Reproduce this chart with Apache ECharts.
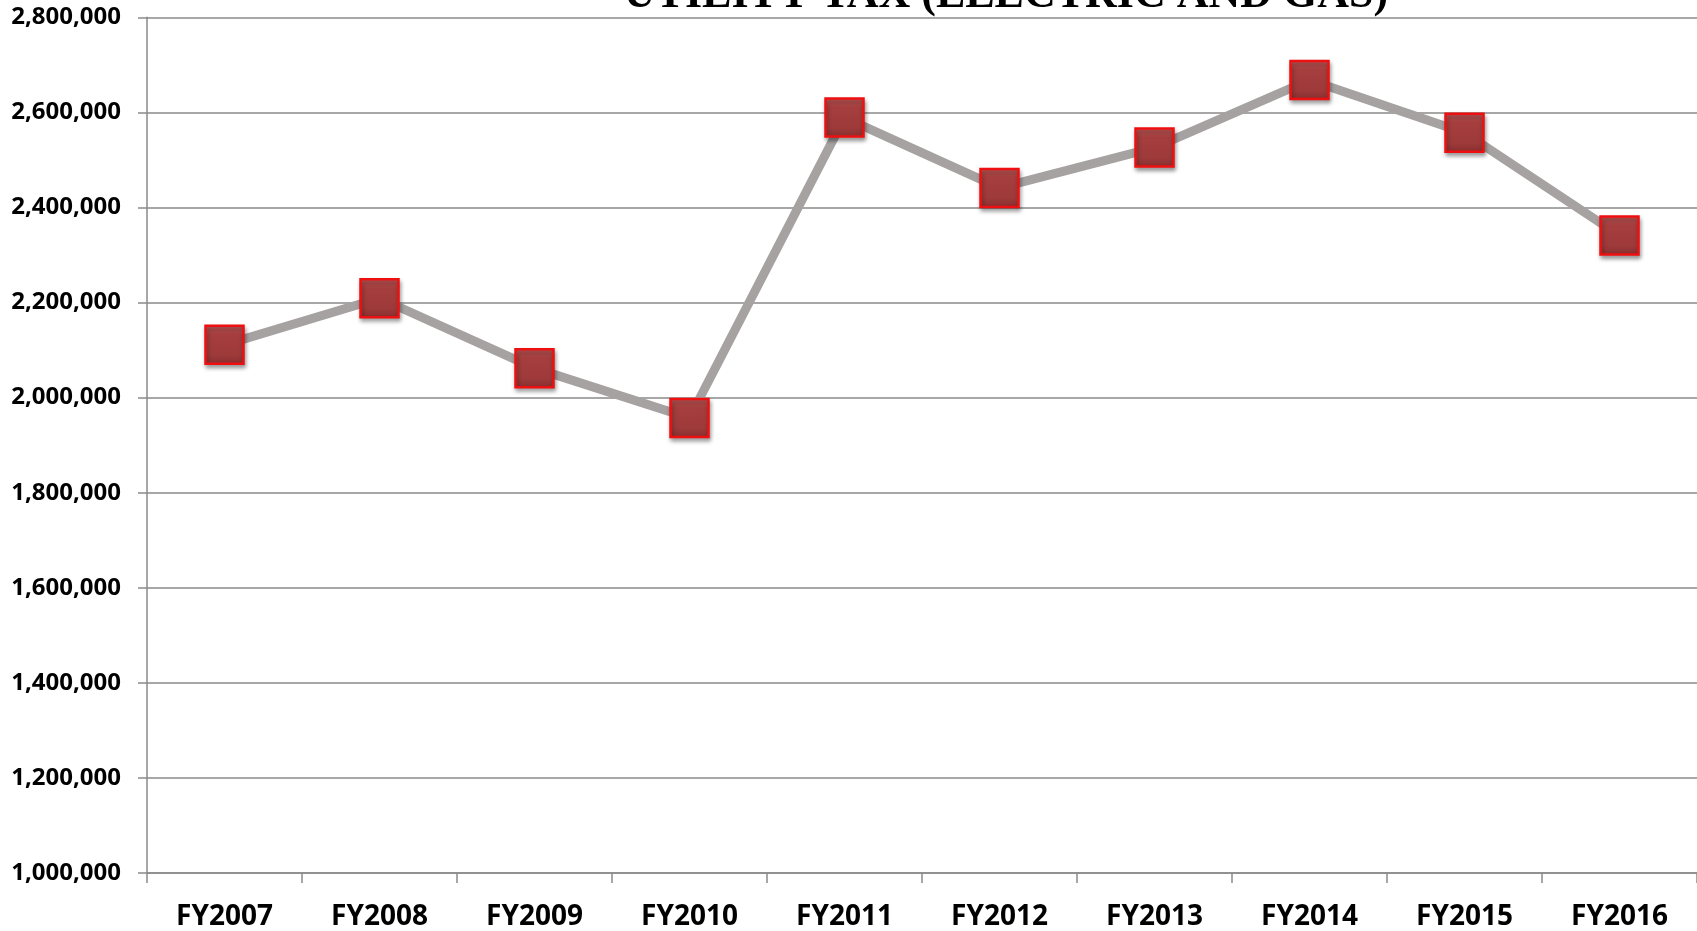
<!DOCTYPE html>
<html>
<head>
<meta charset="utf-8">
<script src="https://cdn.jsdelivr.net/npm/echarts@6/dist/echarts.min.js"></script>
<style>
html,body{margin:0;padding:0;background:#fff;}
#chart{width:1697px;height:931px;}
</style>
</head>
<body>
<div id="chart"></div>
<script>
const titleText = 'UTILITY TAX (ELECTRIC AND GAS)';
const categories = ['FY2007','FY2008','FY2009','FY2010','FY2011','FY2012','FY2013','FY2014','FY2015','FY2016'];
const values = [2111000, 2209000, 2062000, 1957000, 2589000, 2441000, 2526000, 2668000, 2557000, 2341000];
const yMin = 1000000, yMax = 2800000, yStep = 200000;

const chart = echarts.init(document.getElementById('chart'), null, {renderer:'canvas'});
chart.setOption({
  animation: false,
  backgroundColor: '#ffffff',
  title: {
    text: titleText,
    left: 1006,
    textAlign: 'center',
    top: -26,
    padding: 0,
    textStyle: {fontFamily: '"Liberation Serif", "Times New Roman", serif', fontWeight: 'bold', fontSize: 44, color: '#000'}
  },
  grid: {left: 147, right: 0, top: 17.3, bottom: 57.7, containLabel: false},
  xAxis: {
    type: 'category',
    data: categories,
    boundaryGap: true,
    axisLine: {show: true, lineStyle: {color: '#8A8A8A', width: 1.5}},
    axisTick: {show: true, length: 10, alignWithLabel: false, lineStyle: {color: '#8A8A8A', width: 1.5}},
    axisLabel: {margin: 30, fontFamily: '"Open Sans", sans-serif', fontWeight: 'bold', fontSize: 28, color: '#000'}
  },
  yAxis: {
    type: 'value',
    min: yMin, max: yMax, interval: yStep,
    axisLine: {show: true, lineStyle: {color: '#8A8A8A', width: 1.5}},
    axisTick: {show: true, length: 9, lineStyle: {color: '#8A8A8A', width: 1.5}},
    splitLine: {show: true, lineStyle: {color: '#8A8A8A', width: 1.5}},
    axisLabel: {
      margin: 26,
      fontFamily: '"Open Sans", sans-serif', fontWeight: 'bold', fontSize: 24, color: '#000',
      formatter: v => v.toLocaleString('en-US')
    }
  },
  series: [{
    type: 'line',
    data: values,
    symbol: 'rect',
    symbolSize: 38,
    lineStyle: {color: '#A6A2A1', width: 9},
    itemStyle: {
      color: new echarts.graphic.LinearGradient(0, 0, 0, 1, [
        {offset: 0, color: '#C45C5C'},
        {offset: 0.25, color: '#A63E3E'},
        {offset: 0.75, color: '#9E3A3A'},
        {offset: 1, color: '#862E2E'}
      ]),
      borderColor: '#EE1010',
      borderWidth: 2.5,
      shadowColor: 'rgba(0,0,0,0.35)',
      shadowBlur: 4,
      shadowOffsetX: 1,
      shadowOffsetY: 3
    },
    z: 3
  }]
});
</script>
</body>
</html>
